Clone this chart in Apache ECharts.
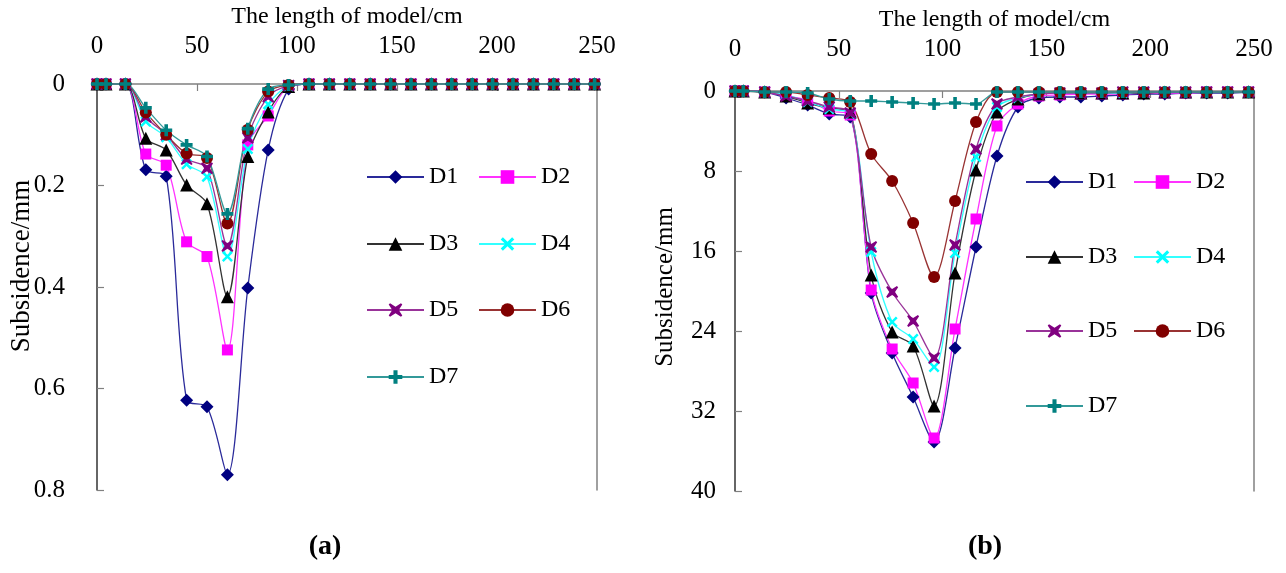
<!DOCTYPE html>
<html>
<head>
<meta charset="utf-8">
<script src="https://cdn.jsdelivr.net/npm/echarts@6/dist/echarts.min.js"></script>
<style>
html,body{margin:0;padding:0;background:#fff;}
#chart{width:1286px;height:573px;}
</style>
</head>
<body>
<div id="chart"></div>
<script>
// ---------- data ----------
const seriesNames = ['D1','D2','D3','D4','D5','D6','D7'];

// chart (a): x positions (cm) and subsidence (mm)
const xA = [0, 4.5, 14.2, 24.4, 34.6, 44.8, 55, 65.2, 75.4, 85.6, 95.8, 106, 116.2, 126.4, 136.6, 146.8, 157, 167.2, 177.4, 187.6, 197.8, 208, 218.2, 228.4, 238.6, 248.8];
const aD1 = [0, 0, 0, 0.169, 0.182, 0.623, 0.636, 0.770, 0.402, 0.130, 0.010, 0, 0, 0, 0, 0, 0, 0, 0, 0, 0, 0, 0, 0, 0, 0];
const aD2 = [0, 0, 0, 0.138, 0.160, 0.311, 0.340, 0.524, 0.120, 0.063, 0.005, 0, 0, 0, 0, 0, 0, 0, 0, 0, 0, 0, 0, 0, 0, 0];
const aD3 = [0, 0, 0, 0.107, 0.130, 0.199, 0.236, 0.419, 0.143, 0.055, 0.005, 0, 0, 0, 0, 0, 0, 0, 0, 0, 0, 0, 0, 0, 0, 0];
const aD4 = [0, 0, 0, 0.074, 0.105, 0.158, 0.183, 0.340, 0.128, 0.040, 0.004, 0, 0, 0, 0, 0, 0, 0, 0, 0, 0, 0, 0, 0, 0, 0];
const aD5 = [0, 0, 0, 0.065, 0.100, 0.148, 0.166, 0.319, 0.106, 0.025, 0.003, 0, 0, 0, 0, 0, 0, 0, 0, 0, 0, 0, 0, 0, 0, 0];
const aD6 = [0, 0, 0, 0.056, 0.100, 0.137, 0.146, 0.275, 0.090, 0.015, 0.002, 0, 0, 0, 0, 0, 0, 0, 0, 0, 0, 0, 0, 0, 0, 0];
const aD7 = [0, 0, 0, 0.047, 0.091, 0.120, 0.143, 0.256, 0.088, 0.010, 0.002, 0, 0, 0, 0, 0, 0, 0, 0, 0, 0, 0, 0, 0, 0, 0];

// chart (b)
const xB = [0, 4, 14.3, 24.6, 35, 45.4, 55.5, 65.6, 75.7, 85.8, 95.9, 106, 116.1, 126.2, 136.3, 146.4, 156.5, 166.6, 176.7, 186.8, 196.9, 207, 217.1, 227.2, 237.3, 247.4];
const bD1 = [0, 0, 0.1, 0.7, 1.4, 2.3, 2.6, 20.2, 26.2, 30.6, 35.1, 25.7, 15.6, 6.5, 1.6, 0.7, 0.6, 0.6, 0.5, 0.4, 0.3, 0.3, 0.2, 0.2, 0.2, 0.1];
const bD2 = [0, 0, 0.1, 0.5, 0.9, 2.0, 2.4, 19.9, 25.8, 29.2, 34.7, 23.8, 12.8, 3.5, 1.3, 0.5, 0.4, 0.3, 0.3, 0.3, 0.2, 0.2, 0.2, 0.1, 0.1, 0.1];
const bD3 = [0, 0, 0.1, 0.5, 1.2, 1.7, 2.1, 18.4, 24.1, 25.5, 31.5, 18.2, 7.9, 2.1, 0.8, 0.3, 0.2, 0.2, 0.2, 0.2, 0.2, 0.1, 0.1, 0.1, 0.1, 0.1];
const bD4 = [0, 0, 0.1, 0.4, 1.1, 1.8, 2.3, 16.1, 23.1, 24.8, 27.6, 16.2, 6.6, 1.6, 0.7, 0.3, 0.2, 0.2, 0.2, 0.2, 0.1, 0.1, 0.1, 0.1, 0.1, 0.1];
const bD5 = [0, 0, 0.1, 0.5, 1.0, 1.6, 2.2, 15.6, 20.1, 23.0, 26.7, 15.4, 5.8, 1.3, 0.6, 0.3, 0.2, 0.2, 0.2, 0.1, 0.1, 0.1, 0.1, 0.1, 0.1, 0.1];
const bD6 = [0, 0, 0.1, 0.1, 0.4, 0.7, 1.1, 6.3, 9.0, 13.2, 18.6, 11.0, 3.1, 0.1, 0.1, 0.1, 0.1, 0.1, 0.1, 0.1, 0.1, 0.1, 0.1, 0.1, 0.1, 0.1];
const bD7 = [0, 0, 0.1, 0.1, 0.2, 0.8, 1.0, 1.0, 1.1, 1.2, 1.3, 1.2, 1.3, 0.1, 0.1, 0.1, 0.1, 0.1, 0.1, 0.1, 0.1, 0.1, 0.1, 0.1, 0.1, 0.1];

const xTicksInterval = 50;
const yAInterval = 0.2;
const yBInterval = 8;

// ---------- styles ----------
const FONT = 'Liberation Serif';
const colors = ['#000080', '#FF00FF', '#000000', '#00FFFF', '#800080', '#800000', '#008080'];
const lineColors = ['#2a2a9a', '#FF33FF', '#333333', '#33FFFF', '#993399', '#993333', '#339999'];
const symbols = [
  'diamond',
  'rect',
  'triangle',
  'path://M0,1.6L1.6,0L5,3.4L8.4,0L10,1.6L6.6,5L10,8.4L8.4,10L5,6.6L1.6,10L0,8.4L3.4,5Z',
  'path://M0,1L1,0L5,2.6L9,0L10,1L7.4,5L10,9L9,10L5,7.4L1,10L0,9L2.6,5Z',
  'circle',
  'path://M3.5,0H6.5V3.5H10V6.5H6.5V10H3.5V6.5H0V3.5H3.5Z'
];
const symbolSizes = [13, 11, 13, 11, 12, 12, 12];

const dataA = [aD1, aD2, aD3, aD4, aD5, aD6, aD7];
const dataB = [bD1, bD2, bD3, bD4, bD5, bD6, bD7];

function makeSeries(xs, vals, idx, axisIdx) {
  return {
    name: seriesNames[idx],
    type: 'line',
    xAxisIndex: axisIdx,
    yAxisIndex: axisIdx,
    data: xs.map((x, i) => [x, vals[i]]),
    smooth: 0.3,
    clip: false,
    symbol: symbols[idx],
    symbolSize: symbolSizes[idx],
    showAllSymbol: true,
    itemStyle: { color: colors[idx] },
    lineStyle: { color: lineColors[idx], width: 1.3 },
    emphasis: { disabled: true },
    animation: false
  };
}

const series = [];
dataA.forEach((v, i) => series.push(makeSeries(xA, v, i, 0)));
dataB.forEach((v, i) => series.push(makeSeries(xB, v, i, 1)));

function xAxisCfg(grid, margin, gap) {
  return {
    gridIndex: grid, type: 'value', position: 'top',
    min: 0, max: 250, interval: xTicksInterval,
    name: 'The length of model/cm', nameLocation: 'middle', nameGap: gap,
    nameTextStyle: { fontSize: 24, fontFamily: FONT, color: '#000' },
    axisLine: { onZero: false, lineStyle: { color: '#808080', width: 1.5 } },
    axisTick: { inside: true, length: 7, lineStyle: { color: '#808080', width: 1.2 } },
    axisLabel: { margin: margin, fontSize: 25, fontFamily: FONT, color: '#000' },
    splitLine: { show: false }
  };
}
function yAxisCfg(grid, max, interval, margin) {
  return {
    gridIndex: grid, type: 'value', inverse: true, position: 'left',
    min: 0, max: max, interval: interval,
    axisLine: { onZero: false, lineStyle: { color: '#333', width: 1.5 } },
    axisTick: { inside: true, length: 7, lineStyle: { color: '#808080', width: 1.2 } },
    axisLabel: { margin: margin, fontSize: 25, fontFamily: FONT, color: '#000' },
    splitLine: { show: false }
  };
}
function borderAxis(grid, max, interval) {
  return {
    gridIndex: grid, type: 'value', inverse: true, position: 'right',
    min: 0, max: max, interval: interval,
    axisLine: { show: true, onZero: false, lineStyle: { color: '#808080', width: 1.5 } },
    axisTick: { show: false }, axisLabel: { show: false }, splitLine: { show: false }
  };
}

const legendPosA = { cols: [366, 478], rows: [178, 245, 311, 378] };
const legendPosB = { cols: [1025, 1133], rows: [183, 258, 332, 407] };
const legends = [];
function addLegends(pos) {
  seriesNames.forEach((n, i) => {
    legends.push({
      data: [n],
      left: pos.cols[i % 2],
      top: pos.rows[Math.floor(i / 2)] - 13,
      padding: 0,
      itemWidth: 57, itemHeight: 17,
      textStyle: { fontSize: 24, fontFamily: FONT, color: '#000' },
      selectedMode: false
    });
  });
}
addLegends(legendPosA);
addLegends(legendPosB);

const chart = echarts.init(document.getElementById('chart'), null, { renderer: 'canvas' });
chart.setOption({
  backgroundColor: '#fff',
  animation: false,
  grid: [
    { left: 97, top: 84, width: 500, height: 406 },
    { left: 735, top: 91, width: 519, height: 400 }
  ],
  xAxis: [xAxisCfg(0, 25, 55), xAxisCfg(1, 29, 59)],
  yAxis: [yAxisCfg(0, 0.8, yAInterval, 32), yAxisCfg(1, 40, yBInterval, 19), borderAxis(0, 0.8, yAInterval), borderAxis(1, 40, yBInterval)],
  legend: legends,
  series: series,
  graphic: [
    { type: 'text', x: 22, y: 266, rotation: Math.PI / 2,
      style: { text: 'Subsidence/mm', fontSize: 27, fontFamily: FONT, fill: '#000', textAlign: 'center', textVerticalAlign: 'middle' } },
    { type: 'text', x: 665, y: 287, rotation: Math.PI / 2,
      style: { text: 'Subsidence/mm', fontSize: 25, fontFamily: FONT, fill: '#000', textAlign: 'center', textVerticalAlign: 'middle' } },
    { type: 'text', x: 325, y: 547,
      style: { text: '(a)', fontSize: 28, fontWeight: 'bold', fontFamily: FONT, fill: '#000', textAlign: 'center', textVerticalAlign: 'middle' } },
    { type: 'text', x: 985, y: 547,
      style: { text: '(b)', fontSize: 28, fontWeight: 'bold', fontFamily: FONT, fill: '#000', textAlign: 'center', textVerticalAlign: 'middle' } }
  ]
});
</script>
</body>
</html>
